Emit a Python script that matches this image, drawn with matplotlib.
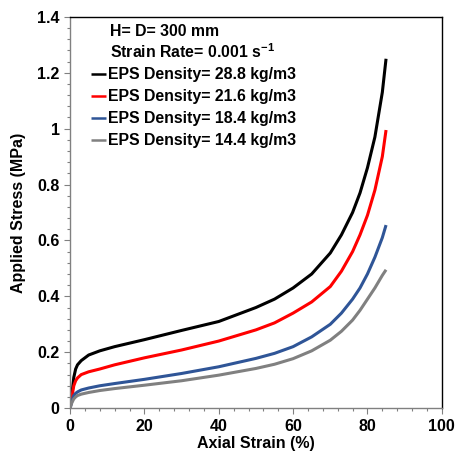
import matplotlib.pyplot as plt
from matplotlib.ticker import MultipleLocator

plt.rcParams["font.family"] = ["Liberation Sans", "DejaVu Sans"]
plt.rcParams["font.weight"] = "bold"
plt.rcParams["mathtext.fontset"] = "custom"
plt.rcParams["mathtext.rm"] = "Liberation Sans:bold"
plt.rcParams["mathtext.bf"] = "Liberation Sans:bold"

strain = [0, 0.5, 1, 1.5, 2, 3, 5, 8, 12, 20, 30, 40, 50, 55, 60, 65, 70, 73, 76, 78, 80, 82, 84, 85]

stress_288 = [0, 0.05, 0.11, 0.14, 0.155, 0.17, 0.19, 0.205, 0.22, 0.245, 0.278, 0.31, 0.36, 0.39,
              0.43, 0.48, 0.555, 0.62, 0.70, 0.77, 0.86, 0.97, 1.13, 1.25]
stress_216 = [0, 0.04, 0.08, 0.098, 0.108, 0.12, 0.13, 0.14, 0.155, 0.18, 0.208, 0.24, 0.28, 0.305,
              0.34, 0.38, 0.435, 0.49, 0.56, 0.62, 0.69, 0.78, 0.90, 0.995]
stress_184 = [0, 0.025, 0.045, 0.053, 0.058, 0.065, 0.072, 0.08, 0.088, 0.103, 0.124, 0.148, 0.178, 0.196,
              0.22, 0.255, 0.30, 0.34, 0.39, 0.43, 0.48, 0.54, 0.61, 0.655]
stress_144 = [0, 0.02, 0.033, 0.04, 0.045, 0.05, 0.056, 0.063, 0.07, 0.082, 0.098, 0.118, 0.142, 0.157,
              0.177, 0.205, 0.243, 0.275, 0.315, 0.35, 0.39, 0.43, 0.475, 0.495]

series = [
    ("EPS Density= 28.8 kg/m3", stress_288, "black"),
    ("EPS Density= 21.6 kg/m3", stress_216, "#ff0000"),
    ("EPS Density= 18.4 kg/m3", stress_184, "#2f5597"),
    ("EPS Density= 14.4 kg/m3", stress_144, "#808080"),
]

fig = plt.figure(figsize=(4.55, 4.55), dpi=100)
ax = fig.add_axes([0.154, 0.103, 0.817, 0.860])

for label, values, color in series:
    ax.plot(strain, values, color=color, lw=2.2, label=label, solid_capstyle="butt")

ax.set_xlim(0, 100)
ax.set_ylim(0, 1.4)
ax.xaxis.set_major_locator(MultipleLocator(20))
ax.xaxis.set_minor_locator(MultipleLocator(4))
ax.yaxis.set_minor_locator(MultipleLocator(0.04))
ax.set_yticks([0, 0.2, 0.4, 0.6, 0.8, 1.0, 1.2, 1.4])
ax.set_yticklabels(["0", "0.2", "0.4", "0.6", "0.8", "1", "1.2", "1.4"])
ax.tick_params(which="major", direction="out", length=4, width=0.8, labelsize=11.5, color="#808080")
ax.tick_params(which="minor", direction="out", length=2.5, width=0.8, color="#808080")
for tick_label in ax.get_xticklabels() + ax.get_yticklabels():
    tick_label.set_fontweight("bold")
for spine in ax.spines.values():
    spine.set_linewidth(1.0)
ax.spines["bottom"].set_color("#808080")
ax.spines["left"].set_color("#808080")

ax.set_xlabel("Axial Strain (%)", fontsize=11.5, fontweight="bold", labelpad=2)
ax.set_ylabel("Applied Stress (MPa)", fontsize=11.5, fontweight="bold", labelpad=8)

ax.text(0.108, 0.962, "H= D= 300 mm", transform=ax.transAxes, fontsize=11.4,
        fontweight="bold", va="center")
ax.text(0.108, 0.914, r"Strain Rate= 0.001 s$^{-1}$", transform=ax.transAxes, fontsize=11.4,
        fontweight="bold", va="center_baseline")

leg = ax.legend(loc="upper left", bbox_to_anchor=(0.055, 0.871), frameon=False,
                fontsize=11.4, handlelength=1.0, handletextpad=0.1, labelspacing=0.44,
                borderaxespad=0, borderpad=0)
for line in leg.get_lines():
    line.set_linewidth(1.8)

fig.savefig("out.png", dpi=100)
